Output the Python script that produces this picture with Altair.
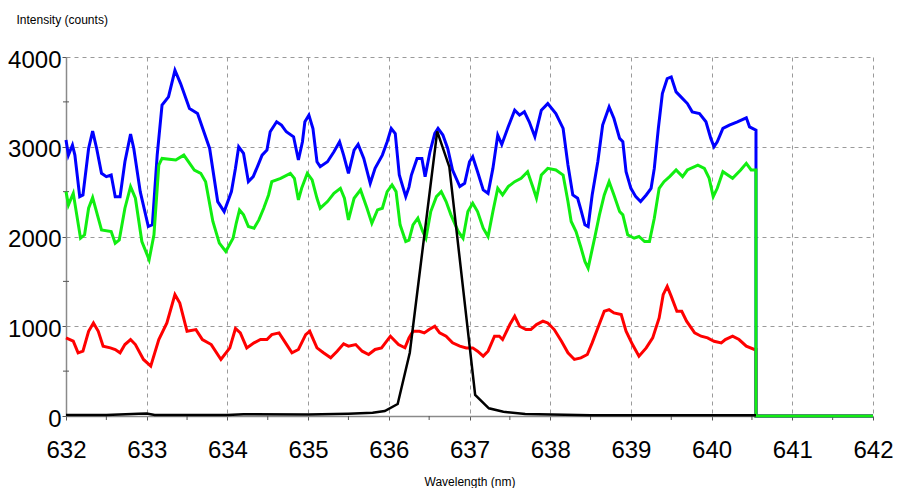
import altair as alt
import pandas as pd

# ---- data ----
blue_wl = [632.00, 632.03, 632.08, 632.11, 632.17, 632.21, 632.28, 632.33, 632.38, 632.44, 632.50, 632.56,
           632.61, 632.67, 632.73, 632.80, 632.84, 632.92, 633.02, 633.07, 633.13, 633.19, 633.27, 633.35,
           633.42, 633.53, 633.63, 633.78, 633.88, 633.96, 634.05, 634.10, 634.14, 634.20, 634.26, 634.32,
           634.38, 634.43, 634.49, 634.53, 634.61, 634.67, 634.73, 634.82, 634.88, 634.93, 634.96, 635.01,
           635.06, 635.11, 635.15, 635.24, 635.32, 635.39, 635.44, 635.50, 635.57, 635.62, 635.69, 635.77,
           635.83, 635.92, 635.98, 636.03, 636.08, 636.13, 636.21, 636.25, 636.28, 636.35, 636.41, 636.45,
           636.51, 636.57, 636.61, 636.67, 636.73, 636.79, 636.88, 636.94, 637.00, 637.04, 637.10, 637.17,
           637.23, 637.29, 637.35, 637.40, 637.48, 637.56, 637.62, 637.68, 637.74, 637.81, 637.89, 637.97,
           638.07, 638.16, 638.22, 638.28, 638.34, 638.38, 638.43, 638.47, 638.52, 638.59, 638.65, 638.73,
           638.79, 638.86, 638.90, 638.94, 639.00, 639.06, 639.12, 639.19, 639.25, 639.29, 639.34, 639.39,
           639.45, 639.50, 639.56, 639.62, 639.70, 639.76, 639.85, 639.93, 639.99, 640.03, 640.07, 640.14,
           640.22, 640.32, 640.43, 640.47, 640.55, 640.55, 642.00]
blue_int = [3074, 2907, 3019, 2907, 2444, 2463, 2981, 3174, 2981, 2704, 2667, 2685,
            2444, 2444, 2833, 3141, 2981, 2500, 2111, 2130, 2907, 3463, 3556, 3852,
            3704, 3426, 3370, 2981, 2389, 2278, 2500, 2760, 3000, 2926, 2611, 2667,
            2796, 2907, 2963, 3167, 3278, 3241, 3167, 3111, 2852, 3056, 3278, 3352,
            3204, 2833, 2778, 2833, 2944, 3056, 2907, 2704, 2963, 3026, 2870, 2593,
            2759, 2907, 3056, 3204, 3148, 2685, 2444, 2550, 2685, 2870, 2870, 2667,
            2944, 3148, 3204, 3130, 2981, 2741, 2556, 2593, 2833, 2889, 2722, 2519,
            2481, 2759, 3130, 3026, 3222, 3407, 3352, 3389, 3278, 3111, 3407, 3481,
            3370, 3204, 2796, 2463, 2426, 2300, 2130, 2111, 2463, 2833, 3241, 3444,
            3315, 3093, 3056, 2722, 2537, 2444, 2389, 2463, 2537, 2759, 3204, 3593,
            3759, 3778, 3611, 3556, 3481, 3389, 3370, 3278, 3093, 3000, 3056, 3204,
            3241, 3278, 3322, 3222, 3185, 0, 0]

green_wl = [632.00, 632.03, 632.09, 632.18, 632.23, 632.28, 632.33, 632.40, 632.44, 632.56, 632.61, 632.66,
            632.73, 632.80, 632.86, 632.94, 633.03, 633.09, 633.15, 633.19, 633.36, 633.46, 633.59, 633.67,
            633.73, 633.82, 633.90, 633.98, 634.07, 634.11, 634.15, 634.20, 634.26, 634.33, 634.39, 634.45,
            634.51, 634.55, 634.66, 634.78, 634.83, 634.88, 634.92, 634.99, 635.05, 635.11, 635.15, 635.24,
            635.32, 635.40, 635.45, 635.50, 635.57, 635.65, 635.73, 635.79, 635.86, 635.92, 635.98, 636.04,
            636.09, 636.14, 636.21, 636.25, 636.30, 636.36, 636.42, 636.46, 636.52, 636.59, 636.65, 636.71,
            636.77, 636.86, 636.92, 636.98, 637.04, 637.10, 637.17, 637.23, 637.29, 637.35, 637.41, 637.48,
            637.56, 637.64, 637.72, 637.79, 637.83, 637.89, 637.97, 638.07, 638.16, 638.22, 638.26, 638.32,
            638.38, 638.43, 638.47, 638.55, 638.61, 638.67, 638.73, 638.79, 638.86, 638.90, 638.96, 639.04,
            639.10, 639.17, 639.23, 639.29, 639.35, 639.41, 639.48, 639.56, 639.64, 639.70, 639.83, 639.91,
            639.97, 640.02, 640.07, 640.14, 640.26, 640.36, 640.43, 640.49, 640.55, 640.55, 642.00]
green_int = [2500, 2352, 2481, 1981, 2019, 2315, 2433, 2204, 2074, 2056, 1926, 1963,
             2315, 2556, 2426, 1944, 1741, 2019, 2796, 2870, 2852, 2907, 2741, 2704,
             2611, 2167, 1926, 1833, 1981, 2150, 2296, 2241, 2111, 2093, 2185, 2315,
             2463, 2611, 2648, 2704, 2648, 2407, 2537, 2704, 2630, 2426, 2315, 2389,
             2481, 2537, 2426, 2185, 2426, 2519, 2315, 2148, 2296, 2315, 2500, 2574,
             2500, 2130, 1944, 1960, 2130, 2204, 2056, 1981, 2278, 2444, 2500, 2389,
             2241, 2056, 1981, 2278, 2370, 2278, 2093, 2000, 2278, 2537, 2463, 2556,
             2611, 2648, 2722, 2537, 2426, 2685, 2759, 2741, 2685, 2389, 2167, 2056,
             1880, 1722, 1648, 1981, 2241, 2463, 2611, 2463, 2278, 2241, 2019, 1981,
             2000, 1944, 1944, 2204, 2537, 2611, 2667, 2741, 2667, 2741, 2796, 2759,
             2648, 2444, 2537, 2722, 2648, 2741, 2815, 2741, 2741, 0, 0]

red_wl = [632.00, 632.09, 632.15, 632.21, 632.28, 632.34, 632.40, 632.46, 632.55, 632.61, 632.67, 632.73,
          632.80, 632.86, 632.96, 633.05, 633.15, 633.25, 633.35, 633.41, 633.50, 633.61, 633.69, 633.80,
          633.92, 634.03, 634.10, 634.16, 634.24, 634.33, 634.41, 634.49, 634.55, 634.64, 634.72, 634.80,
          634.88, 634.97, 635.02, 635.11, 635.19, 635.28, 635.36, 635.44, 635.50, 635.59, 635.67, 635.75,
          635.83, 635.91, 636.02, 636.12, 636.20, 636.25, 636.30, 636.38, 636.44, 636.50, 636.57, 636.63,
          636.71, 636.79, 636.88, 636.96, 637.04, 637.10, 637.17, 637.23, 637.31, 637.37, 637.41, 637.50,
          637.56, 637.62, 637.70, 637.76, 637.83, 637.91, 637.97, 638.05, 638.14, 638.22, 638.30, 638.38,
          638.46, 638.52, 638.59, 638.67, 638.73, 638.79, 638.88, 638.94, 639.02, 639.10, 639.19, 639.27,
          639.35, 639.40, 639.45, 639.50, 639.57, 639.63, 639.69, 639.79, 639.87, 639.95, 640.03, 640.12,
          640.17, 640.26, 640.34, 640.43, 640.53, 640.55, 640.55, 642.00]
red_int = [870, 833, 704, 722, 944, 1037, 944, 778, 759, 741, 704, 796,
           852, 796, 630, 556, 852, 1037, 1352, 1259, 944, 963, 852, 796,
           630, 759, 975, 926, 759, 815, 852, 852, 907, 926, 815, 704,
           741, 907, 944, 759, 704, 648, 722, 804, 778, 796, 722, 685,
           741, 759, 889, 796, 760, 870, 944, 944, 926, 963, 1000, 926,
           889, 815, 778, 759, 759, 722, 667, 722, 889, 889, 852, 1019,
           1111, 1000, 963, 963, 1019, 1056, 1037, 963, 833, 704, 630, 648,
           685, 815, 981, 1167, 1185, 1148, 1130, 944, 796, 667, 759, 870,
           1093, 1352, 1444, 1333, 1167, 1167, 1056, 926, 889, 870, 833, 815,
           852, 889, 852, 778, 741, 741, 0, 0]

black_wl = [632.00, 632.50, 632.90, 633.00, 633.10, 633.50, 634.00, 634.20, 635.00, 635.50, 635.80,
            635.95, 636.11, 636.26, 636.60, 636.75, 637.07, 637.24, 637.42, 637.69, 638.50, 640.55]
black_int = [10, 12, 25, 28, 12, 10, 12, 20, 18, 25, 35,
             56, 134, 705, 3172, 2775, 234, 86, 48, 22, 8, 8]

series_names = ["red", "blue", "green", "black"]
series_colors = ["#ff0000", "#0000ff", "#11ee11", "#000000"]
series_data = {"red": (red_wl, red_int), "blue": (blue_wl, blue_int),
               "green": (green_wl, green_int), "black": (black_wl, black_int)}

x_major = list(range(632, 643))
y_major = [0, 1000, 2000, 3000, 4000]
x_minor = [632.5 + i for i in range(10)]
y_minor = [500, 1500, 2500, 3500]

FONT = "Liberation Sans"

x_scale = alt.Scale(domain=[632, 642], nice=False, zero=False)
y_scale = alt.Scale(domain=[0, 4000], nice=False)

x_axis = alt.Axis(
    title="Wavelength (nm)", values=x_major, format="d",
    grid=True, gridDash=[4, 4], gridColor="#9a9a9a", gridWidth=1,
    domainColor="#8a8a8a", domainWidth=1.5,
    tickColor="#555555", tickSize=4,
    labelFont=FONT, labelFontSize=24, labelColor="#000000", labelPadding=18,
    labelFlush=False,
    titleFont=FONT, titleFontSize=12, titleFontWeight="normal", titleColor="#000000",
    titleY=65, titleBaseline="middle",
)
y_axis = alt.Axis(
    title="Intensity (counts)", values=y_major, format="d",
    grid=True, gridDash=[4, 4], gridColor="#9a9a9a", gridWidth=1,
    domainColor="#8a8a8a", domainWidth=1.5,
    tickColor="#555555", tickSize=4,
    labelFont=FONT, labelFontSize=24, labelColor="#000000", labelPadding=1,
    labelBaseline="middle", labelOffset=3, labelFlush=False,
    titleFont=FONT, titleFontSize=12, titleFontWeight="normal", titleColor="#000000",
    titleAngle=0, titleAlign="left", titleBaseline="middle",
    titleX=-50, titleY=-38,
)

X = alt.X("wl:Q", scale=x_scale, axis=x_axis)
Y = alt.Y("I:Q", scale=y_scale, axis=y_axis)

layers = []
# minor ticks on the axes
xm = pd.DataFrame({"wl": x_minor})
layers.append(alt.Chart(xm).mark_rule(color="#555555", strokeWidth=1).encode(
    x=X, y=alt.value(359), y2=alt.value(363)))
ym = pd.DataFrame({"I": y_minor})
layers.append(alt.Chart(ym).mark_rule(color="#555555", strokeWidth=1).encode(
    y=Y, x=alt.value(-3), x2=alt.value(3)))

for i, name in enumerate(series_names):
    wl, inten = series_data[name]
    df = pd.DataFrame({"wl": wl, "I": inten, "idx": list(range(len(wl)))})
    layers.append(
        alt.Chart(df).mark_line(color=series_colors[i], strokeWidth=3 if name != "black" else 2.5)
        .encode(x=X, y=Y, order="idx:Q")
    )

chart = alt.layer(*layers).properties(
    width=807, height=359,
    autosize=alt.AutoSizeParams(type="none"),
    padding={"left": 66, "top": 57, "right": 26, "bottom": 72},
    background="white",
).configure_view(stroke=None)

chart.save("out.html", embed_options={"renderer": "svg", "actions": False})
